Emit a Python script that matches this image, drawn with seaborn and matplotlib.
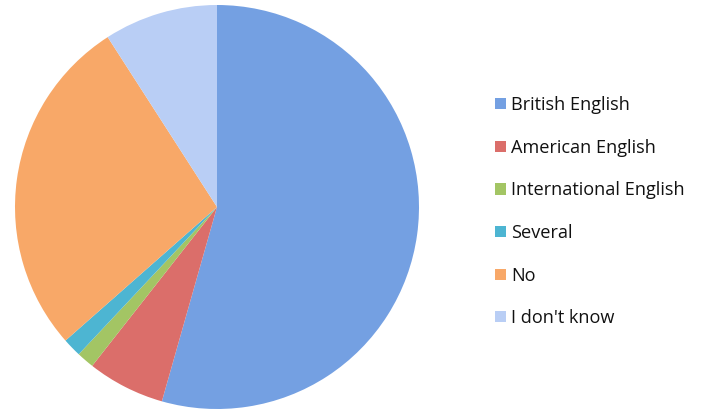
import matplotlib
matplotlib.use("Agg")
import matplotlib.pyplot as plt
import seaborn as sns

sns.set_theme(style="white")
plt.rcParams['font.family'] = ['Open Sans', 'DejaVu Sans']

categories = ["British English", "American English", "International English",
              "Several", "No", "I don't know"]
values = [54.4, 6.2, 1.4, 1.5, 27.4, 9.1]
colors = ["#74A0E2", "#DB6E6A", "#A3C564", "#4DB5D2", "#F8A868", "#B9CEF5"]

fig = plt.figure(figsize=(7.01, 4.11), dpi=100)
cx, cy, r = 217, 207, 202
W, H = 701, 411
ax = fig.add_axes([(cx - r) / W, (H - cy - r) / H, 2 * r / W, 2 * r / H])
wedges, _ = ax.pie(values, colors=colors, startangle=90, counterclock=False,
                   radius=1.0, wedgeprops=dict(linewidth=0))
ax.set_xlim(-1.0, 1.0)
ax.set_ylim(-1.0, 1.0)
ax.set_aspect('equal')
ax.axis('off')

leg = fig.legend(wedges, categories, loc='upper left',
                 bbox_to_anchor=(488 / W, 1 - 89 / H),
                 frameon=False, fontsize=13.1, handlelength=0.57, handleheight=0.57,
                 handletextpad=0.3, labelspacing=1.35, borderaxespad=0,
                 labelcolor='#111111')
fig.savefig("out.png", dpi=100)
